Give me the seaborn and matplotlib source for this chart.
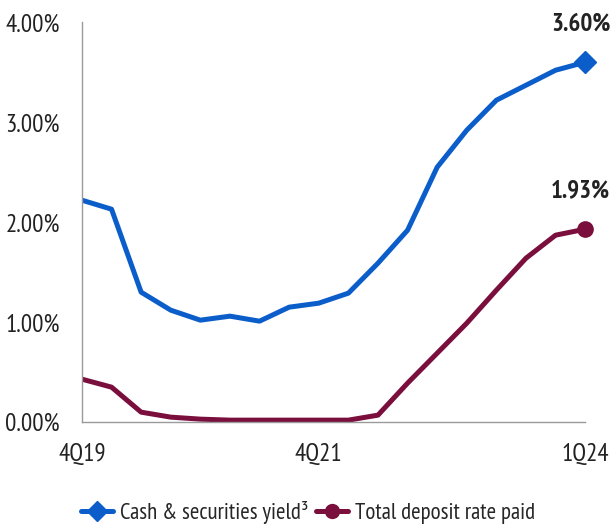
import numpy as np
import pandas as pd
import matplotlib
matplotlib.use("Agg")
import matplotlib.pyplot as plt
import seaborn as sns

# --- data ---
quarters = ["4Q19", "1Q20", "2Q20", "3Q20", "4Q20", "1Q21", "2Q21", "3Q21", "4Q21",
            "1Q22", "2Q22", "3Q22", "4Q22", "1Q23", "2Q23", "3Q23", "4Q23", "1Q24"]
cash_yield = [2.22, 2.13, 1.30, 1.12, 1.02, 1.06, 1.01, 1.15, 1.19,
              1.29, 1.59, 1.92, 2.55, 2.92, 3.22, 3.37, 3.52, 3.60]
deposit_rate = [0.43, 0.35, 0.10, 0.05, 0.03, 0.02, 0.02, 0.02, 0.02,
                0.02, 0.07, 0.39, 0.69, 0.99, 1.32, 1.64, 1.87, 1.93]
tick_labels = ["4Q19", "4Q21", "1Q24"]
series_names = ["Cash & securities yield³", "Total deposit rate paid"]

blue = "#0B5EC9"
maroon = "#7A0E3C"

df = pd.DataFrame({
    "idx": list(range(len(quarters))) * 2,
    "value": cash_yield + deposit_rate,
    "series": [series_names[0]] * len(quarters) + [series_names[1]] * len(quarters),
})

sns.set_style("white")
plt.rcParams["font.family"] = ["PT Sans Narrow", "DejaVu Sans"]

fig = plt.figure(figsize=(6.16, 5.29), dpi=100)
ax = fig.add_axes([0.133, 0.202, 0.817, 0.756])

sns.lineplot(data=df, x="idx", y="value", hue="series",
             palette=[blue, maroon], linewidth=3.6, legend=False, ax=ax)

# end markers + value labels
last = len(quarters) - 1
ax.plot(last, cash_yield[-1], marker="D", color=blue, markersize=11, clip_on=False)
ax.plot(last, deposit_rate[-1], marker="o", color=maroon, markersize=11, clip_on=False)
ax.text(last - 0.15, cash_yield[-1] + 0.32, f"{cash_yield[-1]:.2f}%", ha="center",
        fontsize=18, fontweight="bold", color="#222222")
ax.text(last - 0.15, deposit_rate[-1] + 0.32, f"{deposit_rate[-1]:.2f}%", ha="center",
        fontsize=18, fontweight="bold", color="#222222")

ax.set_xlim(0, last)
ax.set_ylim(0, 4)
ax.set_yticks([0, 1, 2, 3, 4])
ax.set_yticklabels([f"{v:.2f}%" for v in [0, 1, 2, 3, 4]], fontsize=18, color="#222222")
ax.set_xticks([quarters.index(q) for q in tick_labels])
ax.set_xticklabels(tick_labels, fontsize=18, color="#222222")
ax.tick_params(axis="y", length=0, pad=16)
ax.tick_params(axis="x", length=0, pad=15)
ax.set_xlabel("")
ax.set_ylabel("")

for side in ["top", "right"]:
    ax.spines[side].set_visible(False)
for side in ["left", "bottom"]:
    ax.spines[side].set_color("#9a9a9a")
    ax.spines[side].set_linewidth(1)

handles = [
    plt.Line2D([], [], color=blue, marker="D", linewidth=3.6, markersize=10),
    plt.Line2D([], [], color=maroon, marker="o", linewidth=3.6, markersize=10),
]
fig.legend(handles, series_names, loc="center", bbox_to_anchor=(0.5, 0.032),
           ncol=2, frameon=False, fontsize=16.5, handlelength=1.4, handletextpad=0.3,
           columnspacing=0.3)

fig.savefig("out.png", dpi=100)
